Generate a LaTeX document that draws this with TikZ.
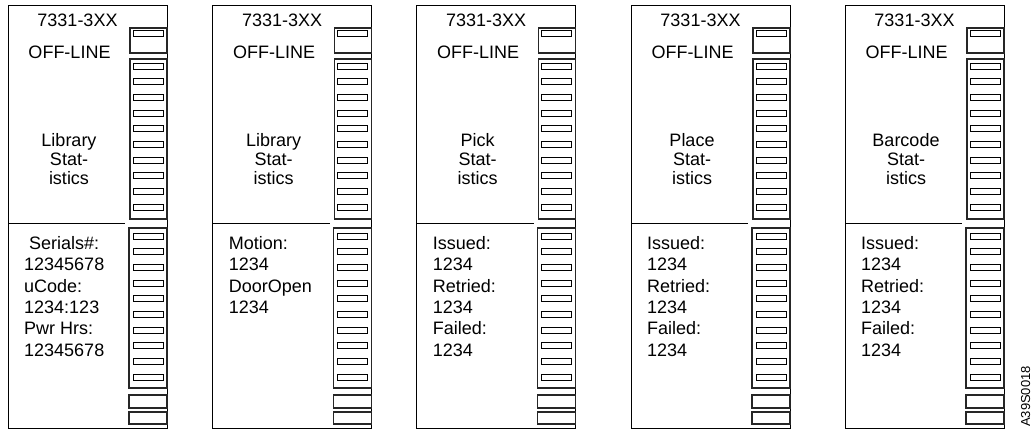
\documentclass[tikz,border=0pt]{standalone}
\usepackage{fontspec}
\setmainfont{Liberation Sans}
\usetikzlibrary{positioning}

\begin{document}
\begin{tikzpicture}[
  x=1pt,y=-1pt,
  font=\fontsize{18}{21}\selectfont,
  inner sep=0pt,
  panel/.style={draw=black,line width=0.9pt},
  column/.style={draw=black!85,line width=1.3pt},
  slot/.style={draw=black,line width=0.8pt},
  label/.style={anchor=base},
  info/.style={anchor=base west},
  tag/.style={font=\fontsize{13}{13}\selectfont,rotate=90,anchor=base west}
]
\useasboundingbox (0,0) rectangle (1031,430);

% Panels: frame, lamp, button columns and menu title
\foreach \L/\name [count=\p] in {8/Library,212.7/Library,416.7/Pick,631/Place,845/Barcode}{
  \begin{scope}[shift={(\L,0)}]
    \draw[panel] (0,5) rectangle (159,428);
    \draw[column] (122,28) rectangle (159,53);
    \draw[slot] (125,30) rectangle (155,36);
    \draw[column] (122,59) rectangle (159,219);
    \foreach \k in {0,...,9}
      \draw[slot] (125,63+15.7*\k) rectangle (155,69+15.7*\k);
    \draw[panel] (0,223) -- (117,223);
    \draw[column] (121,228) rectangle (159,388);
    \foreach \k in {0,...,9}
      \draw[slot] (125,233+15.7*\k) rectangle (155,239+15.7*\k);
    \draw[column] (121,395) rectangle (159,408);
    \draw[column] (121,412) rectangle (159,424);
    \node[label] (model\p) at (69.5,27) {7331-3XX};
    \node[label] (mode\p) at (61.5,58.5) {OFF-LINE};
    \foreach \w [count=\k from 0] in {\name,Stat-,istics}
      \node[label] (menu\p\k) at (61,146.2+19.3*\k) {\w};
  \end{scope}
}

% Lower displays
\foreach \w [count=\k from 0] in {\ Serials\#:,12345678,uCode:,1234:123,Pwr Hrs:,12345678}
  \node[info] (lib\k) at (24,249.5+21.3*\k) {\w};
\foreach \w [count=\k from 0] in {Motion:,1234,DoorOpen,1234}
  \node[info] (motion\k) at (228.7,249.5+21.3*\k) {\w};
\foreach \w [count=\k from 0] in {Issued:,1234,Retried:,1234,Failed:,1234}
  \node[info] (pick\k) at (432.7,249.5+21.3*\k) {\w};
\foreach \w [count=\k from 0] in {Issued:,1234,Retried:,1234,Failed:,1234}
  \node[info] (place\k) at (647,249.5+21.3*\k) {\w};
\foreach \w [count=\k from 0] in {Issued:,1234,Retried:,1234,Failed:,1234}
  \node[info] (code\k) at (861,249.5+21.3*\k) {\w};

\node[tag] (figid) at (1030,427) {A39S0018};
\end{tikzpicture}
\end{document}
